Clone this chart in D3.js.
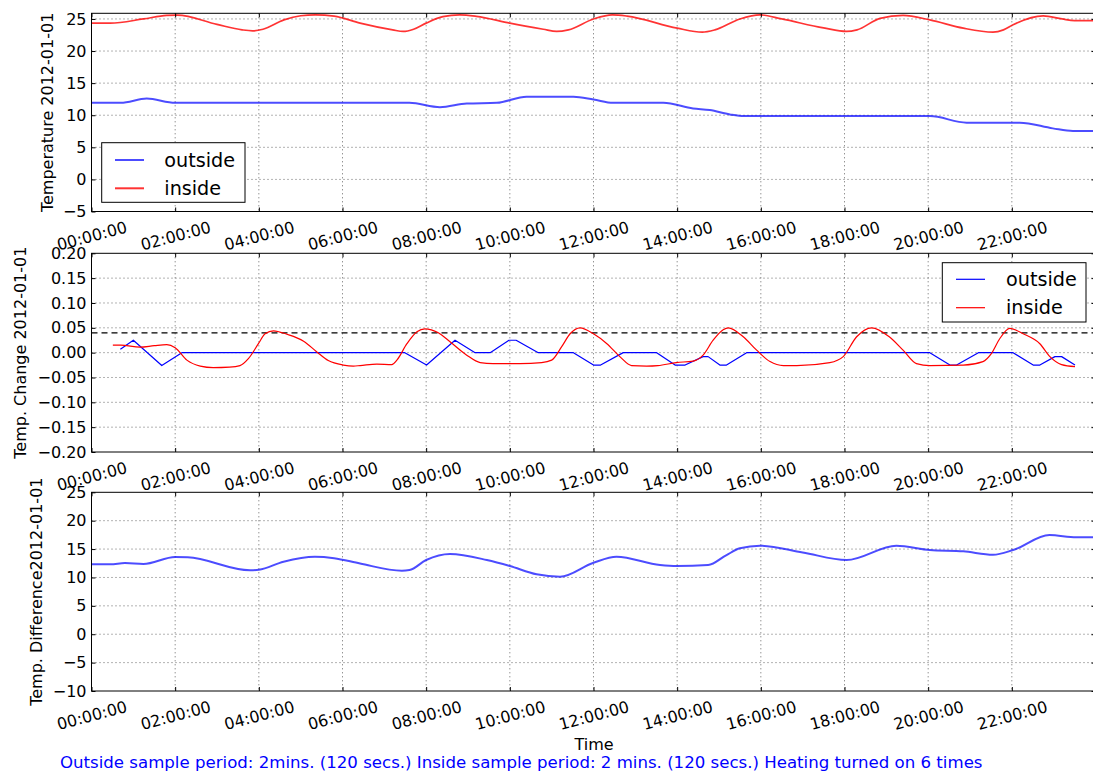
<!DOCTYPE html>
<html><head><meta charset="utf-8">
<script src="https://cdn.jsdelivr.net/npm/d3@7"></script>
<style>
body{margin:0;background:#fff}
svg{display:block}
text{font-family:"DejaVu Sans",sans-serif;fill:#000}
</style>
</head><body>
<svg id="chart" width="1093" height="771"></svg>
<script>
// ---------------- data (hours of 2012-01-01) ----------------
const xTickHours = [0,2,4,6,8,10,12,14,16,18,20,22];

const insideHours = [0,0.45,1.24,1.8,2.05,3.0,3.6,3.85,4.1,4.6,5.0,5.35,5.8,6.42,7.2,7.45,7.7,8.0,8.4,8.8,9.2,10.0,10.8,11.12,11.4,12.0,12.45,12.8,14.0,14.6,14.9,15.5,15.98,16.5,17.5,18.05,18.3,18.85,19.4,20.04,20.84,21.55,21.8,22.03,22.75,23.2,23.5,24.0];
const insideTemp  = [24.35,24.35,25.0,25.55,25.6,24.15,23.3,23.15,23.4,24.85,25.5,25.65,25.45,24.35,23.3,23.05,23.4,24.35,25.35,25.63,25.4,24.34,23.4,23.05,23.3,25.0,25.63,25.45,23.56,22.95,23.3,25.0,25.63,25.0,23.6,23.05,23.3,25.1,25.55,24.85,23.56,22.95,23.3,24.1,25.47,25.0,24.74,24.74];

const outsideHours = [0,0.7,1.32,2.0,7.6,8.33,8.97,9.69,10.4,11.52,12.0,12.47,13.67,14.38,14.78,15.26,15.6,20.04,20.92,22.19,22.98,23.46,24.0];
const outsideTemp  = [11.94,11.94,12.6,11.94,11.94,11.26,11.83,11.94,12.87,12.87,12.45,11.94,11.94,11.05,10.8,10.12,9.86,9.86,8.84,8.84,7.95,7.54,7.54];

const outsideChangeHours = [0.69,1.0,1.68,2.16,7.49,8.01,8.69,9.17,9.53,9.98,10.15,10.68,11.52,12.0,12.17,12.71,13.51,13.95,14.19,14.62,14.74,15.02,15.18,15.66,20.04,20.52,20.68,21.2,22.03,22.51,22.67,23.03,23.19,23.51];
const outsideChange      = [0.007,0.025,-0.026,0,0,-0.025,0.025,0,0,0.025,0.025,0,0,-0.025,-0.025,0,0,-0.025,-0.025,-0.008,-0.008,-0.025,-0.025,0,0,-0.025,-0.025,0,0,-0.025,-0.025,-0.008,-0.008,-0.025];

const insideChangeHours = [0.51,0.7,1.16,1.5,1.8,2.0,2.28,2.6,2.91,3.3,3.55,3.75,3.99,4.15,4.35,4.67,5.07,5.38,5.66,6.02,6.26,6.42,6.82,7.18,7.3,7.54,7.78,7.97,8.29,8.57,8.97,9.29,9.6,10.24,10.76,11.0,11.24,11.44,11.68,12.0,12.32,12.63,12.91,13.27,13.54,13.98,14.38,14.62,14.86,15.1,15.22,15.58,15.9,16.22,16.54,16.86,17.65,17.97,18.29,18.65,19.07,19.4,19.72,20.04,20.84,21.31,21.51,21.71,21.95,22.27,22.67,22.91,23.19,23.51];
const insideChange      = [0.015,0.015,0.011,0.014,0.016,0.010,-0.015,-0.027,-0.030,-0.029,-0.026,-0.012,0.018,0.038,0.044,0.037,0.023,0.002,-0.016,-0.025,-0.027,-0.026,-0.023,-0.024,-0.015,0.018,0.042,0.048,0.040,0.022,-0.005,-0.020,-0.022,-0.022,-0.020,-0.015,0.012,0.038,0.050,0.038,0.018,-0.008,-0.026,-0.027,-0.026,-0.020,-0.017,-0.005,0.025,0.046,0.050,0.032,0.005,-0.018,-0.026,-0.026,-0.020,-0.008,0.032,0.050,0.032,0.005,-0.022,-0.026,-0.025,-0.018,-0.002,0.028,0.049,0.038,0.018,-0.008,-0.024,-0.028];
const heatThreshold = 0.04;

const diffHours = [0,0.45,0.8,1.24,2.0,2.3,3.79,4.0,4.59,5.34,5.8,6.42,7.42,7.6,8.0,8.57,9.45,10.0,10.64,11.2,12.0,12.55,13.59,13.99,14.74,15.18,15.5,15.98,17.0,18.05,19.24,20.04,20.84,21.55,22.03,22.9,23.54,24.0];
const tempDiff  = [12.31,12.31,12.54,12.37,13.6,13.55,11.25,11.35,12.77,13.65,13.4,12.45,11.19,11.3,13.07,14.13,13.07,12.01,10.55,10.13,12.6,13.65,12.19,12.01,12.19,13.95,15.13,15.6,14.4,13.07,15.6,14.83,14.6,14.0,14.83,17.47,17.07,17.07];

const tempTicks   = [-5,0,5,10,15,20,25];
const changeTicks = [-0.20,-0.15,-0.10,-0.05,0.00,0.05,0.10,0.15,0.20];
const diffTicks   = [-10,-5,0,5,10,15,20,25];
const seriesNames = ["outside","inside"];
const yTitles = ["Temperature 2012-01-01","Temp. Change 2012-01-01","Temp. Difference2012-01-01"];
const xTitle = "Time";
const footerText = "Outside sample period: 2mins. (120 secs.) Inside sample period: 2 mins. (120 secs.) Heating turned on 6 times";

// ---------------- layout ----------------
const base = new Date(2012,0,1,0,0,0);
const toDate = h => new Date(base.getTime() + h*3600000);
const L = 91.5, R = 1095.5;
const svg = d3.select("#chart");
const x = d3.scaleTime().domain([toDate(0), toDate(24)]).range([L, R]);

const panels = [
  {top:13.3, bottom:211.5, domain:[-5,25.88], ticks:tempTicks, fmt:d3.format("d"), titleX:47},
  {top:253.3, bottom:452, domain:[-0.2,0.2], ticks:changeTicks, fmt:d3.format(".2f"), titleX:20},
  {top:492.3, bottom:691, domain:[-10,25], ticks:diffTicks, fmt:d3.format("d"), titleX:36}
];

function zip(hs, vs){ return hs.map((h,i)=>({t:toDate(h), v:vs[i]})); }

panels.forEach((p,i)=>{
  const y = d3.scaleLinear().domain(p.domain).range([p.bottom, p.top]);
  p.y = y;
  const g = svg.append("g");
  g.append("rect").attr("x",L).attr("y",p.top).attr("width",R-L).attr("height",p.bottom-p.top).attr("fill","#fff");
  const clipId = "clip"+i;
  g.append("clipPath").attr("id",clipId).append("rect").attr("x",L).attr("y",p.top).attr("width",R-L).attr("height",p.bottom-p.top);
  const grid = g.append("g").attr("stroke","#000").attr("stroke-width",0.8).attr("stroke-dasharray","1,3").attr("opacity",0.75);
  xTickHours.filter(h=>h>0).forEach(h=>{
    grid.append("line").attr("x1",x(toDate(h))).attr("x2",x(toDate(h))).attr("y1",p.top).attr("y2",p.bottom);
  });
  p.ticks.forEach(t=>{
    const yy = y(t);
    if (yy > p.top+1 && yy < p.bottom-1)
      grid.append("line").attr("x1",L).attr("x2",R).attr("y1",yy).attr("y2",yy);
  });
  p.g = g; p.plot = g.append("g").attr("clip-path",`url(#${clipId})`);
});

function drawLine(p, data, color, width, opacity, curve){
  const line = d3.line().x(d=>x(d.t)).y(d=>p.y(d.v)).curve(curve);
  p.plot.append("path").datum(data).attr("d",line).attr("fill","none")
    .attr("stroke",color).attr("stroke-width",width).attr("stroke-opacity",opacity)
    .attr("stroke-linejoin","round");
}

// panel 1
drawLine(panels[0], zip(outsideHours, outsideTemp), "#0000ff", 2, 0.7, d3.curveMonotoneX);
drawLine(panels[0], zip(insideHours, insideTemp), "#ff0000", 1.7, 0.8, d3.curveMonotoneX);
// panel 2
panels[1].plot.append("line").attr("x1",L).attr("x2",R)
  .attr("y1",panels[1].y(heatThreshold)).attr("y2",panels[1].y(heatThreshold))
  .attr("stroke","#000").attr("stroke-width",1.2).attr("stroke-dasharray","6,4");
drawLine(panels[1], zip(outsideChangeHours, outsideChange), "#0000ff", 1.2, 1, d3.curveLinear);
drawLine(panels[1], zip(insideChangeHours, insideChange), "#ff0000", 1.2, 1, d3.curveMonotoneX);
// panel 3
drawLine(panels[2], zip(diffHours, tempDiff), "#0000ff", 2, 0.7, d3.curveMonotoneX);

// axes, spines, titles
panels.forEach((p,i)=>{
  const g = p.g;
  const yl = g.append("g").attr("transform",`translate(${L},0)`)
    .call(d3.axisLeft(p.y).tickValues(p.ticks).tickFormat(p.fmt).tickSize(-4).tickPadding(5));
  const yr = g.append("g").attr("transform",`translate(${R},0)`)
    .call(d3.axisRight(p.y).tickValues(p.ticks).tickFormat("").tickSize(-4));
  const xt = g.append("g").attr("transform",`translate(0,${p.top})`)
    .call(d3.axisTop(x).tickValues(xTickHours.map(toDate)).tickFormat("").tickSize(-4));
  const xb = g.append("g").attr("transform",`translate(0,${p.bottom})`)
    .call(d3.axisBottom(x).tickValues(xTickHours.map(toDate)).tickFormat(d3.timeFormat("%H:%M:%S")).tickSize(-4));
  [yl,yr,xt,xb].forEach(a=>{
    a.select(".domain").remove();
    a.selectAll(".tick line").attr("stroke","#000").attr("stroke-width",1);
    a.selectAll("text").attr("font-family","DejaVu Sans").attr("font-size",16).attr("fill","#000");
  });
  xb.selectAll("text").attr("y",null).attr("dy",null)
    .attr("dominant-baseline","central").attr("text-anchor","middle")
    .attr("transform","translate(0,24.5) rotate(-15)");
  g.append("rect").attr("x",L).attr("y",p.top).attr("width",R-L).attr("height",p.bottom-p.top)
    .attr("fill","none").attr("stroke","#000").attr("stroke-width",1);
  const cy = (p.top+p.bottom)/2;
  g.append("text").attr("transform",`translate(${p.titleX},${cy}) rotate(-90)`)
    .attr("text-anchor","middle").attr("dominant-baseline","central")
    .attr("font-size",16).text(yTitles[i]);
});

// legends
function legend(x0, y0, w, h, lineX0, textX, rowYs, colors, width, opacity){
  const lg = svg.append("g");
  lg.append("rect").attr("x",x0).attr("y",y0).attr("width",w).attr("height",h)
    .attr("fill","#fff").attr("stroke","#000").attr("stroke-width",1);
  seriesNames.forEach((n,k)=>{
    lg.append("line").attr("x1",lineX0).attr("x2",lineX0+29).attr("y1",rowYs[k]).attr("y2",rowYs[k])
      .attr("stroke",colors[k]).attr("stroke-width",width).attr("stroke-opacity",opacity[k]);
    lg.append("text").attr("x",textX).attr("y",rowYs[k]).attr("dominant-baseline","central")
      .attr("font-size",19.2).text(n);
  });
}
legend(101.7,142.7,143.3,59.6,115,164.3,[160,188.3],["#0000ff","#ff0000"],2,[0.7,0.8]);
legend(942.3,262.7,143.7,59.3,956,1006,[279.3,307.7],["#0000ff","#ff0000"],1.2,[1,1]);

// x title & footer
svg.append("text").attr("x",594).attr("y",744).attr("text-anchor","middle")
  .attr("dominant-baseline","central").attr("font-size",16).text(xTitle);
svg.append("text").attr("x",60).attr("y",767.5).attr("font-size",16.6)
  .style("fill","#0000ff").text(footerText);
</script>
</body></html>
